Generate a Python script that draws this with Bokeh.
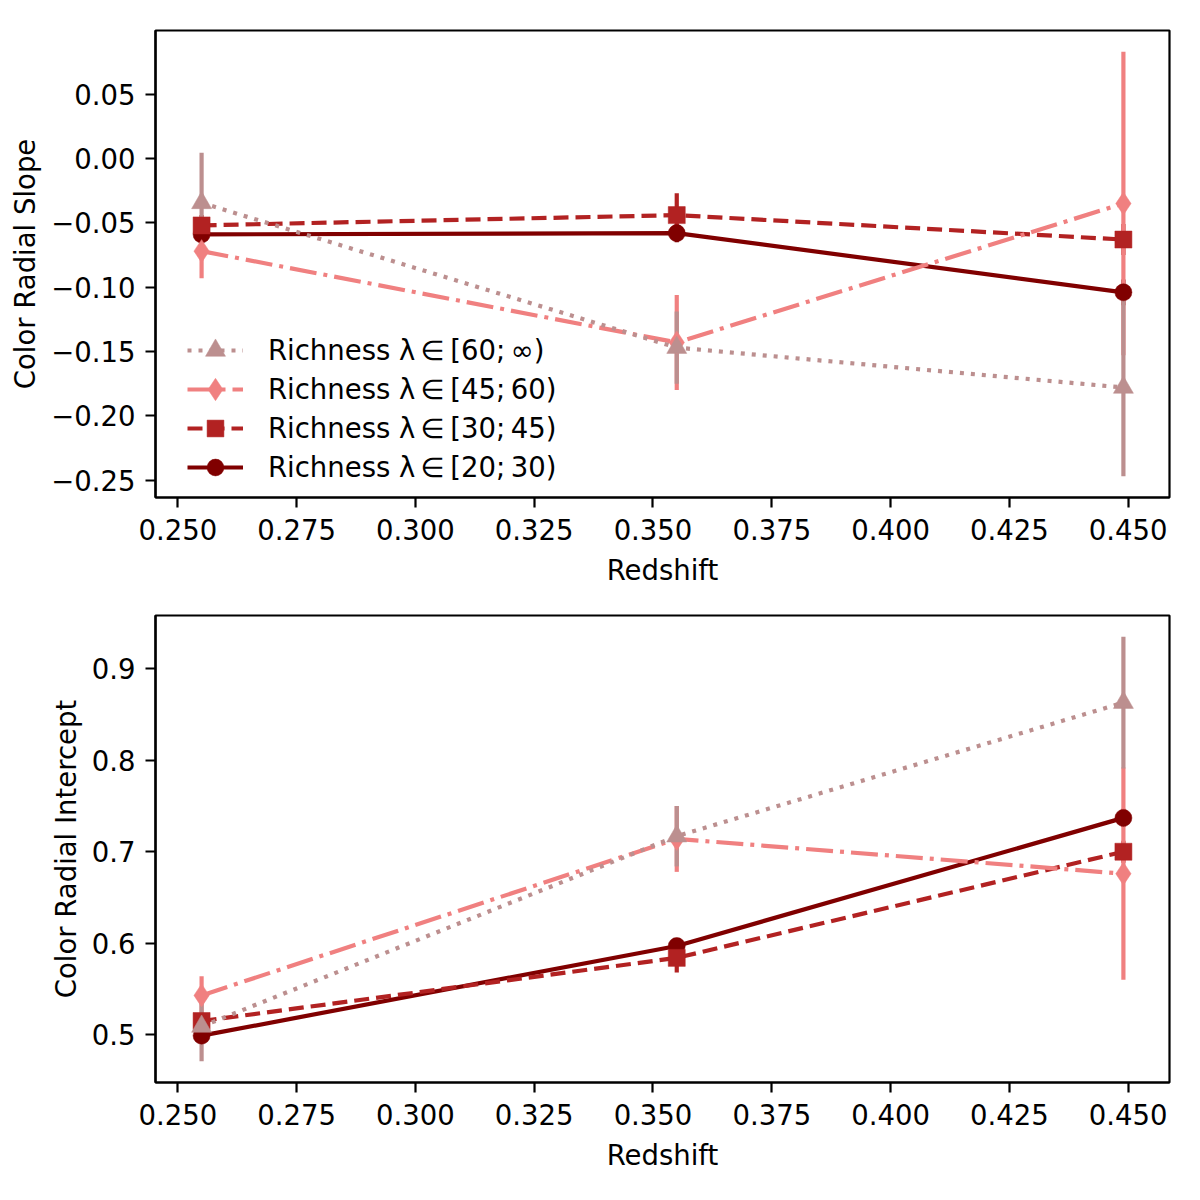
from bokeh.plotting import figure
from bokeh.models import (FixedTicker, CustomJSTickFormatter, Legend, LegendItem,
                          Range1d, ColumnDataSource)
from bokeh.layouts import column
from bokeh.embed import file_html
from bokeh.resources import INLINE

# ---------------- data ----------------
redshift = [0.255, 0.355, 0.449]

labels = ["Richness λ\u2009∈\u2009[60;\u2009∞)", "Richness λ\u2009∈\u2009[45;\u200960)",
          "Richness λ\u2009∈\u2009[30;\u200945)", "Richness λ\u2009∈\u2009[20;\u200930)"]

slope_60 = [-0.0345, -0.147, -0.178]
slope_60_err = [0.039, 0.028, 0.069]
slope_45 = [-0.072, -0.143, -0.035]
slope_45_err = [0.021, 0.037, 0.118]
slope_30 = [-0.052, -0.044, -0.063]
slope_30_err = [0.008, 0.017, 0.012]
slope_20 = [-0.059, -0.058, -0.104]
slope_20_err = [0.006, 0.007, 0.010]

icpt_60 = [0.509, 0.717, 0.863]
icpt_60_err = [0.038, 0.033, 0.072]
icpt_45 = [0.543, 0.714, 0.676]
icpt_45_err = [0.021, 0.036, 0.116]
icpt_30 = [0.515, 0.584, 0.700]
icpt_30_err = [0.008, 0.016, 0.012]
icpt_20 = [0.499, 0.597, 0.737]
icpt_20_err = [0.006, 0.007, 0.010]

x_ticks = [0.250, 0.275, 0.300, 0.325, 0.350, 0.375, 0.400, 0.425, 0.450]
slope_ticks = [-0.25, -0.20, -0.15, -0.10, -0.05, 0.00, 0.05]
icpt_ticks = [0.5, 0.6, 0.7, 0.8, 0.9]

# ---------------- styles ----------------
colors = ["#BC8F8F", "#F08080", "#B22222", "#800000"]
markers = ["triangle", "diamond", "square", "circle"]
msizes = [20, 23, 17, 17]
dashes = ["4 7", "27 7 4 7", "15 7", "solid"]
LW = 4.2
FONT = "DejaVu Sans"
FS = "27.5px"


def padded(vals_lo, vals_hi, frac=0.05):
    lo, hi = min(vals_lo), max(vals_hi)
    d = (hi - lo) * frac
    return lo - d, hi + d


def make_panel(series, errs, ylabel, yticks, ydec, border_top, border_bottom, with_legend):
    xlo, xhi = padded(redshift, redshift)
    lows = [y - e for ys, es in zip(series, errs) for y, e in zip(ys, es)]
    highs = [y + e for ys, es in zip(series, errs) for y, e in zip(ys, es)]
    ylo, yhi = padded(lows, highs)

    p = figure(frame_width=1014, frame_height=467,
               min_border_left=155, min_border_right=11,
               min_border_top=border_top, min_border_bottom=border_bottom,
               x_range=Range1d(xlo, xhi), y_range=Range1d(ylo, yhi),
               output_backend="svg", toolbar_location=None)
    p.grid.visible = False
    p.outline_line_color = "black"
    p.outline_line_width = 2.2
    p.background_fill_color = "white"

    for ax in (p.xaxis[0], p.yaxis[0]):
        ax.axis_line_color = "black"
        ax.axis_line_width = 2.2
        ax.major_tick_out = 10
        ax.major_tick_in = 0
        ax.major_tick_line_width = 2.2
        ax.minor_tick_line_color = None
        ax.major_label_text_font = FONT
        ax.major_label_text_font_size = FS
        ax.major_label_text_color = "black"
        ax.axis_label_text_font = FONT
        ax.axis_label_text_font_size = FS
        ax.axis_label_text_font_style = "normal"
        ax.axis_label_text_color = "black"

    p.xaxis.ticker = FixedTicker(ticks=x_ticks)
    p.xaxis.formatter = CustomJSTickFormatter(code="return tick.toFixed(3).replace('-', '\u2212');")
    p.xaxis.axis_label = "Redshift"
    p.xaxis.major_label_standoff = 11
    p.xaxis.axis_label_standoff = 11

    p.yaxis.ticker = FixedTicker(ticks=yticks)
    p.yaxis.formatter = CustomJSTickFormatter(
        code="return tick.toFixed(%d).replace('-', '\u2212');" % ydec)
    p.yaxis.axis_label = ylabel
    p.yaxis.major_label_standoff = 10
    p.yaxis.axis_label_standoff = 7

    # error bars first (bottom of stack), circle series first, triangle last
    order = [3, 2, 1, 0]
    for i in order:
        ys, es = series[i], errs[i]
        src = ColumnDataSource(dict(x=redshift,
                                    lo=[y - e for y, e in zip(ys, es)],
                                    hi=[y + e for y, e in zip(ys, es)]))
        p.segment(x0="x", y0="lo", x1="x", y1="hi", source=src,
                  line_color=colors[i], line_width=LW)

    line_r = {}
    mark_r = {}
    for i in order:
        src = ColumnDataSource(dict(x=redshift, y=series[i]))
        line_r[i] = p.line("x", "y", source=src, line_color=colors[i],
                           line_width=LW, line_dash=dashes[i])
    for i in order:
        src = ColumnDataSource(dict(x=redshift, y=series[i]))
        mark_r[i] = p.scatter("x", "y", source=src, marker=markers[i],
                              size=msizes[i], fill_color=colors[i],
                              line_color=colors[i], line_width=0.5)

    if with_legend:
        # one legend box per entry so that marker size and row pitch are independent
        pitch = 39
        for k in range(4):
            gh = int(round(msizes[k] / 0.4))
            centre = 30 + (3 - k) * pitch
            leg = Legend(items=[LegendItem(label=labels[k],
                                           renderers=[line_r[k], mark_r[k]])],
                         location=(32, centre - gh / 2), margin=0, padding=0,
                         glyph_width=56, glyph_height=gh, label_height=20,
                         label_standoff=25, spacing=0,
                         label_text_font=FONT, label_text_font_size=FS,
                         label_text_color="black",
                         border_line_alpha=0, background_fill_alpha=0)
            p.add_layout(leg)
    return p


p1 = make_panel([slope_60, slope_45, slope_30, slope_20],
                [slope_60_err, slope_45_err, slope_30_err, slope_20_err],
                "Color Radial Slope", slope_ticks, 2, 30, 98, True)
p2 = make_panel([icpt_60, icpt_45, icpt_30, icpt_20],
                [icpt_60_err, icpt_45_err, icpt_30_err, icpt_20_err],
                "Color Radial Intercept", icpt_ticks, 1, 20, 96, False)

layout = column(p1, p2, spacing=0)
open("out.html", "w").write(file_html(layout, INLINE))
